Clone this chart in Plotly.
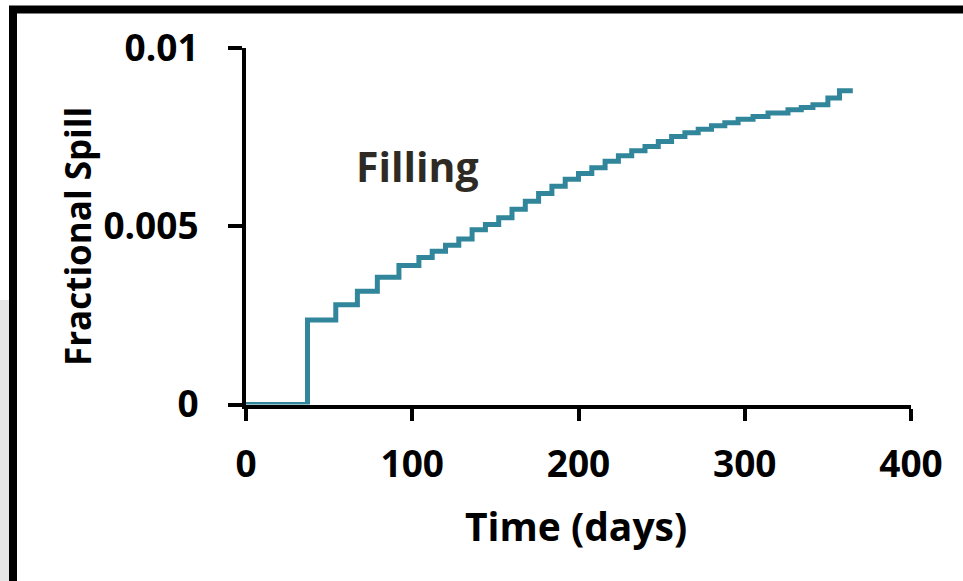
import plotly.graph_objects as go

# Data (days, fractional spill)
days = [0, 37, 54, 67, 79, 92, 104, 112, 120, 128, 136, 144, 152, 160, 168,
        176, 184, 192, 200, 208, 216, 224, 232, 240, 248, 256, 264, 272, 280,
        288, 296, 305, 314, 326, 334, 341, 350, 357, 365]
spill = [0.0, 0.00237, 0.00280, 0.00318, 0.00357, 0.00390, 0.00412, 0.00430,
         0.00447, 0.00464, 0.00490, 0.00505, 0.00524, 0.00548, 0.00570,
         0.00592, 0.00612, 0.00632, 0.00648, 0.00664, 0.00682, 0.00698,
         0.00712, 0.00724, 0.00738, 0.00752, 0.00762, 0.00772, 0.00782,
         0.00790, 0.00800, 0.00808, 0.00818, 0.00827, 0.00833, 0.00841,
         0.00860, 0.00880, 0.00880]

x_ticks = [0, 100, 200, 300, 400]
x_tick_text = ["0", "100", "200", "300", "400"]
y_ticks = [0, 0.005, 0.01]
y_tick_text = ["0", "0.005", "0.01"]

FONT = "Open Sans"
W, H = 963, 581

fig = go.Figure()
fig.add_trace(go.Scatter(
    x=days, y=spill, mode="lines", line_shape="hv",
    line=dict(color="#31869B", width=5), hoverinfo="x+y", showlegend=False))

fig.update_layout(
    width=W, height=H,
    margin=dict(l=0, r=0, t=0, b=0, pad=0, autoexpand=False),
    paper_bgcolor="white", plot_bgcolor="white",
    font=dict(family=FONT, color="black"),
    xaxis=dict(
        domain=[246 / W, 911 / W], range=[0, 400],
        tickvals=x_ticks, ticktext=x_tick_text,
        showline=True, linecolor="black", linewidth=4,
        ticks="outside", ticklen=12, tickwidth=4, tickcolor="black",
        showgrid=False, zeroline=False, layer="below traces",
        tickfont=dict(family=FONT, size=37, color="black", weight="bold"),
        ticklabelstandoff=12, fixedrange=True, automargin=False,
    ),
    yaxis=dict(
        domain=[(H - 404.5) / H, (H - 48) / H], range=[0, 0.01],
        tickvals=y_ticks, ticktext=y_tick_text,
        showline=True, linecolor="black", linewidth=4,
        ticks="outside", ticklen=14, tickwidth=4, tickcolor="black",
        showgrid=False, zeroline=False, layer="below traces",
        tickfont=dict(family=FONT, size=37, color="black", weight="bold"),
        ticklabelstandoff=22, fixedrange=True, automargin=False,
    ),
    shapes=[
        dict(type="rect", xref="paper", yref="paper",
             x0=0, x1=9 / W, y0=0, y1=(H - 300) / H,
             fillcolor="#e6e6e6", line=dict(width=0), layer="below"),
        dict(type="rect", xref="paper", yref="paper",
             x0=13 / W, x1=1.03, y0=-0.03, y1=(H - 9.5) / H,
             fillcolor="rgba(0,0,0,0)", line=dict(color="black", width=8)),
    ],
    annotations=[
        dict(text="<b>Time (days)</b>", xref="paper", yref="paper",
             x=576 / W, y=(H - 525) / H, xanchor="center", yanchor="middle",
             showarrow=False, font=dict(family=FONT, size=39, color="black")),
        dict(text="<b>Fractional Spill</b>", xref="paper", yref="paper",
             x=77 / W, y=(H - 237) / H, xanchor="center", yanchor="middle",
             textangle=-90, showarrow=False,
             font=dict(family=FONT, size=35, color="black")),
        dict(text="<b>Filling</b>", xref="paper", yref="paper",
             x=417 / W, y=(H - 166) / H, xanchor="center", yanchor="middle",
             showarrow=False, font=dict(family=FONT, size=41, color="#2e2b24")),
    ],
)

fig.write_html(
    "out.html",
    config={"displayModeBar": False},
    post_script="document.body.style.margin='0';document.body.style.overflow='hidden';",
)
